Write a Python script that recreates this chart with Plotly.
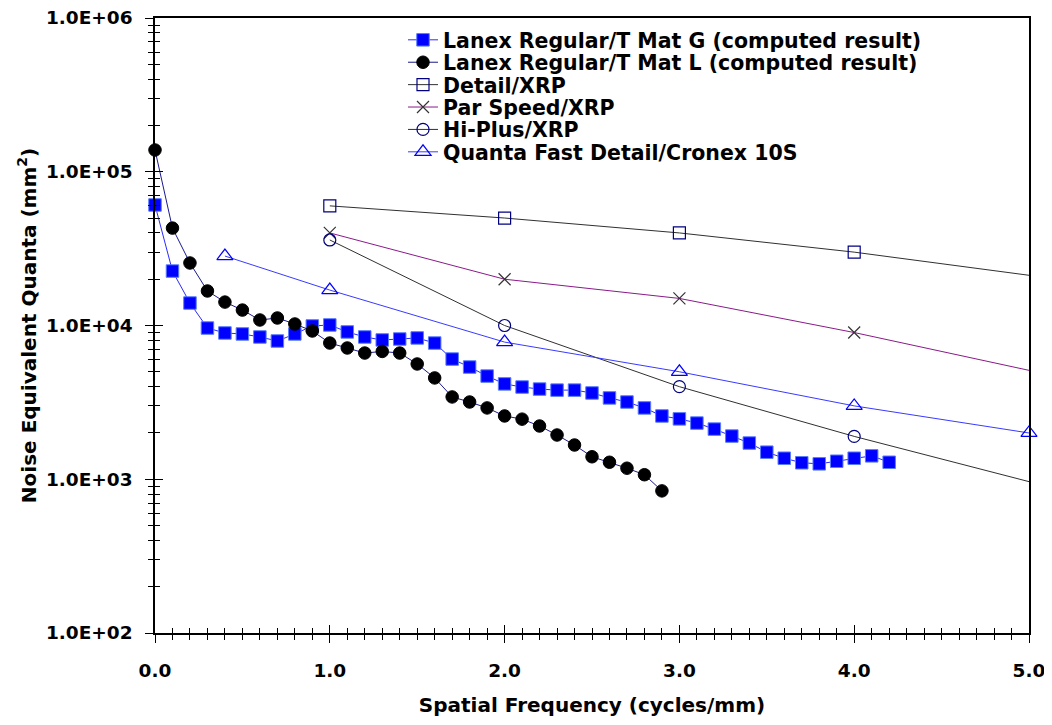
import plotly.graph_objects as go

# ---------------- data ----------------
freq_g = [round(0.1 * i, 1) for i in range(43)]          # 0.0 .. 4.2
nq_g = [60800, 22600, 14000, 9630, 8940, 8810, 8420, 7930, 8810, 9930,
        10080, 9080, 8420, 8050, 8170, 8300, 7690, 6050, 5370, 4690,
        4170, 3980, 3860, 3800, 3800, 3640, 3380, 3180, 2910, 2580,
        2470, 2320, 2120, 1910, 1720, 1500, 1370, 1280, 1260, 1310,
        1370, 1420, 1290]

freq_l = [round(0.1 * i, 1) for i in range(30)]          # 0.0 .. 2.9
nq_l = [138500, 43000, 25500, 16770, 14200, 12600, 10860, 11190, 10230, 9210,
        7690, 7140, 6620, 6780, 6620, 5620, 4560, 3430, 3180, 2910,
        2580, 2460, 2220, 1940, 1670, 1400, 1290, 1180, 1070, 840]

freq_film = [1.0, 2.0, 3.0, 4.0, 6.0]
nq_detail = [60000, 50000, 40000, 30000, 15000]
nq_par = [40000, 20000, 15000, 9000, 2900]
nq_hiplus = [36000, 10000, 4000, 1900, 490]

freq_quanta = [0.4, 1.0, 2.0, 3.0, 4.0, 5.0]
nq_quanta = [28300, 17000, 7800, 5000, 3000, 2000]

names = ["Lanex Regular/T Mat G (computed result)",
         "Lanex Regular/T Mat L (computed result)",
         "Detail/XRP",
         "Par Speed/XRP",
         "Hi-Plus/XRP",
         "Quanta Fast Detail/Cronex 10S"]

x_tickvals = [0, 1, 2, 3, 4, 5]
x_ticktext = ["0.0", "1.0", "2.0", "3.0", "4.0", "5.0"]
y_tickvals = [1e2, 1e3, 1e4, 1e5, 1e6]
y_ticktext = ["1.0E+02", "1.0E+03", "1.0E+04", "1.0E+05", "1.0E+06"]
y_minor = [d * k for d in [1e2, 1e3, 1e4, 1e5] for k in range(2, 10)]

# ---------------- layout geometry ----------------
# the page body has an 8px margin, so the figure is drawn offset by (8, 8)
OFF = 8
W, H = 1040, 725 - 2 * OFF
PLOT_L, PLOT_R, PLOT_T, PLOT_B = 155, 1029, 18, 633      # page pixels
L, T = PLOT_L - OFF, PLOT_T - OFF
R, B = W - (PLOT_R - OFF), H - (PLOT_B - OFF)
PW, PH = W - L - R, H - T - B
FONT = "DejaVu Sans, Liberation Sans, Arial, sans-serif"

def px_x(p):
    return (p - PLOT_L) / PW

def px_y(p):
    return 1 - (p - PLOT_T) / PH

fig = go.Figure()

fig.add_trace(go.Scatter(
    x=freq_g, y=nq_g, name=names[0], mode="lines+markers", cliponaxis=False,
    line=dict(color="#2a2aff", width=1),
    marker=dict(symbol="square", size=12.5, color="#0000ff",
                line=dict(color="#5a7cff", width=1)),
    legend="legend"))
fig.add_trace(go.Scatter(
    x=freq_l, y=nq_l, name=names[1], mode="lines+markers", cliponaxis=False,
    line=dict(color="#1a1a8c", width=1),
    marker=dict(symbol="circle", size=12.5, color="#000000",
                line=dict(color="#000000", width=1)),
    legend="legend2"))
fig.add_trace(go.Scatter(
    x=freq_film, y=nq_detail, name=names[2], mode="lines+markers",
    line=dict(color="#303030", width=1),
    marker=dict(symbol="square-open", size=12, color="#000080",
                line=dict(color="#000080", width=1.2)),
    legend="legend3"))
fig.add_trace(go.Scatter(
    x=freq_film, y=nq_par, name=names[3], mode="lines+markers",
    line=dict(color="#8a1a8a", width=1),
    marker=dict(symbol="x-thin", size=12, color="#333333",
                line=dict(color="#333333", width=1.2)),
    legend="legend4"))
fig.add_trace(go.Scatter(
    x=freq_film, y=nq_hiplus, name=names[4], mode="lines+markers",
    line=dict(color="#303030", width=1),
    marker=dict(symbol="circle-open", size=12, color="#000080",
                line=dict(color="#000080", width=1.2)),
    legend="legend5"))
fig.add_trace(go.Scatter(
    x=freq_quanta, y=nq_quanta, name=names[5], mode="lines+markers",
    cliponaxis=False,
    line=dict(color="#3a3aff", width=1),
    marker=dict(symbol="triangle-up-open", size=14, color="#0000ff",
                line=dict(color="#0000ff", width=1.2)),
    legend="legend6"))

# dummy trace for the overlay axes (crossing ticks)
fig.add_trace(go.Scatter(x=[None], y=[None], xaxis="x2", yaxis="y2",
                         showlegend=False, hoverinfo="skip"))

# ---------------- legends (one per row for exact spacing) ----------------
row_centers = [40, 62.4, 84.8, 107.2, 129.6, 152]
legend_font = dict(family=FONT, size=20.5, color="black", weight="bold")
legend_keys = ["legend", "legend2", "legend3", "legend4", "legend5", "legend6"]
legends = {}
for key, yc in zip(legend_keys, row_centers):
    legends[key] = dict(x=px_x(403), y=px_y(yc), xanchor="left", yanchor="middle",
                        bgcolor="rgba(0,0,0,0)", borderwidth=0,
                        font=legend_font, tracegroupgap=0)

tick_font = dict(family=FONT, size=18.5, color="black", weight="bold")
title_font = dict(family=FONT, size=20, color="black", weight="bold")

fig.update_layout(
    width=W, height=H,
    margin=dict(l=L, r=R, t=T, b=B, autoexpand=False),
    paper_bgcolor="white", plot_bgcolor="white",
    showlegend=True,
    **legends,
    xaxis=dict(
        range=[0, 5], showgrid=False, zeroline=False,
        showline=True, linecolor="black", linewidth=1.5, mirror=True,
        ticks="outside", ticklen=8, tickwidth=1.2, tickcolor="black",
        tickvals=x_tickvals, ticktext=x_ticktext, tickfont=tick_font,
        ticklabelstandoff=12, ticklabeloverflow="allow",
        minor=dict(ticks="outside", ticklen=5, tickwidth=1.2, tickcolor="black",
                   dtick=0.1, tick0=0, showgrid=False),
        title=dict(text="Spatial Frequency (cycles/mm)", font=title_font, standoff=20),
    ),
    yaxis=dict(
        type="log", range=[2, 6], showgrid=False, zeroline=False,
        showline=True, linecolor="black", linewidth=1.5, mirror=True,
        ticks="outside", ticklen=8, tickwidth=1.2, tickcolor="black",
        tickvals=y_tickvals, ticktext=y_ticktext, tickfont=tick_font,
        ticklabelstandoff=9, ticklabeloverflow="allow",
        minor=dict(ticks="outside", ticklen=5, tickwidth=1.2, tickcolor="black",
                   tickvals=y_minor, showgrid=False),
        title=dict(text="Noise Equivalent Quanta (mm<sup>2</sup>)", font=title_font,
                   standoff=4),
    ),
    xaxis2=dict(
        overlaying="x", anchor="y", side="bottom", range=[0, 5],
        showgrid=False, zeroline=False, showline=False, showticklabels=False,
        ticks="inside", ticklen=8, tickwidth=1.2, tickcolor="black",
        tickvals=x_tickvals,
        minor=dict(ticks="inside", ticklen=5, tickwidth=1.2, tickcolor="black",
                   dtick=0.1, tick0=0, showgrid=False),
    ),
    yaxis2=dict(
        overlaying="y", anchor="x", side="left", type="log", range=[2, 6],
        showgrid=False, zeroline=False, showline=False, showticklabels=False,
        ticks="inside", ticklen=8, tickwidth=1.2, tickcolor="black",
        tickvals=y_tickvals,
        minor=dict(ticks="inside", ticklen=5, tickwidth=1.2, tickcolor="black",
                   tickvals=y_minor, showgrid=False),
    ),
)

fig.write_html("out.html")
